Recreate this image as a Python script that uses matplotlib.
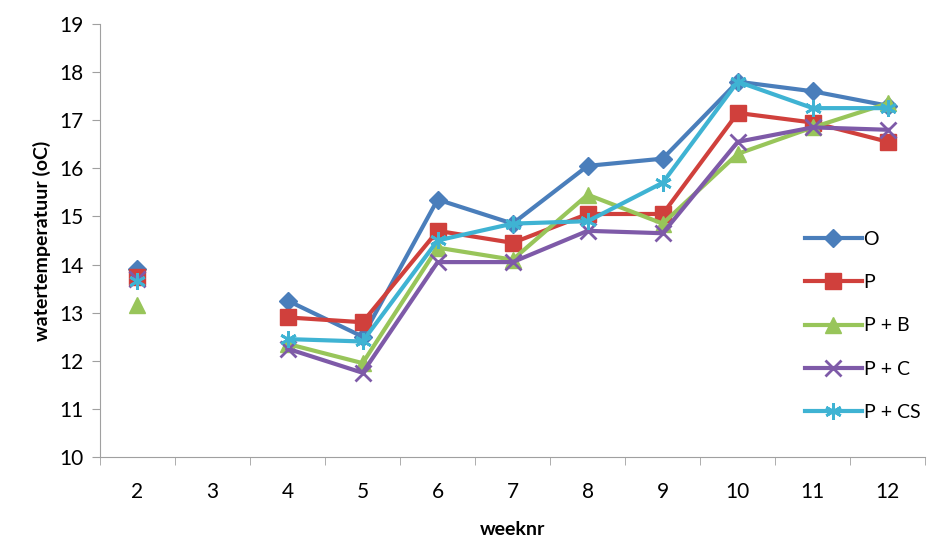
import numpy as np
import matplotlib.pyplot as plt

# week numbers on the category axis (week 3 has no measurements)
weeks = ['2', '3', '4', '5', '6', '7', '8', '9', '10', '11', '12']
nan = np.nan

# water temperature per treatment (oC)
temp_O = [13.9, nan, 13.25, 12.5, 15.35, 14.85, 16.05, 16.2, 17.8, 17.6, 17.3]
temp_P = [13.75, nan, 12.9, 12.8, 14.7, 14.45, 15.05, 15.05, 17.15, 16.95, 16.55]
temp_PB = [13.15, nan, 12.35, 11.95, 14.35, 14.1, 15.45, 14.85, 16.3, 16.85, 17.35]
temp_PC = [13.7, nan, 12.25, 11.75, 14.05, 14.05, 14.7, 14.65, 16.55, 16.85, 16.8]
temp_PCS = [13.65, nan, 12.45, 12.4, 14.5, 14.85, 14.9, 15.7, 17.8, 17.25, 17.25]

labels = ['O', 'P', 'P + B', 'P + C', 'P + CS']

plt.rcParams['font.family'] = ['Lato', 'DejaVu Sans']

fig = plt.figure(figsize=(9.3, 5.44), dpi=100)
ax = fig.add_axes([0.1075, 0.16, 0.8875, 0.796])

x = np.arange(len(weeks))

# series styles roughly as in the Excel original
ax.plot(x, temp_O, color='#4A7EBB', lw=3, marker='D', ms=9, label=labels[0])
ax.plot(x, temp_P, color='#D0403C', lw=3, marker='s', ms=11, label=labels[1])
ax.plot(x, temp_PB, color='#98C55A', lw=3, marker='^', ms=11, label=labels[2])
ax.plot(x, temp_PC, color='#7E5AA8', lw=3, marker='x', ms=11, mew=2, label=labels[3])
ax.plot(x, temp_PCS, color='#3FB3D3', lw=3, marker=(6, 2, 0), ms=12, mew=2, label=labels[4])

ax.set_xlim(-0.5, len(weeks) - 0.5)
ax.set_ylim(10, 19)
ax.set_yticks(np.arange(10, 20, 1))
ax.set_xticks(x)
ax.set_xticklabels(weeks)
ax.set_xticks(np.arange(-0.5, len(weeks), 1), minor=True)

ax.tick_params(axis='x', which='major', length=0, labelsize=15, pad=18)
ax.tick_params(axis='x', which='minor', length=6, color='#A0A0A0')
ax.tick_params(axis='y', length=6, color='#A0A0A0', labelsize=15, pad=6)

ax.set_xlabel('weeknr', fontsize=14, fontweight='bold', labelpad=14)
ax.set_ylabel('watertemperatuur (oC)', fontsize=14, fontweight='bold', labelpad=6)

ax.spines['top'].set_visible(False)
ax.spines['right'].set_visible(False)
ax.spines['left'].set_color('#A0A0A0')
ax.spines['bottom'].set_color('#A0A0A0')

ax.legend(loc='upper left', bbox_to_anchor=(0.845, 0.54), frameon=False,
          fontsize=14, handlelength=2.9, handletextpad=0.1, labelspacing=1.35,
          borderaxespad=0)

plt.savefig('out.png', dpi=100)
